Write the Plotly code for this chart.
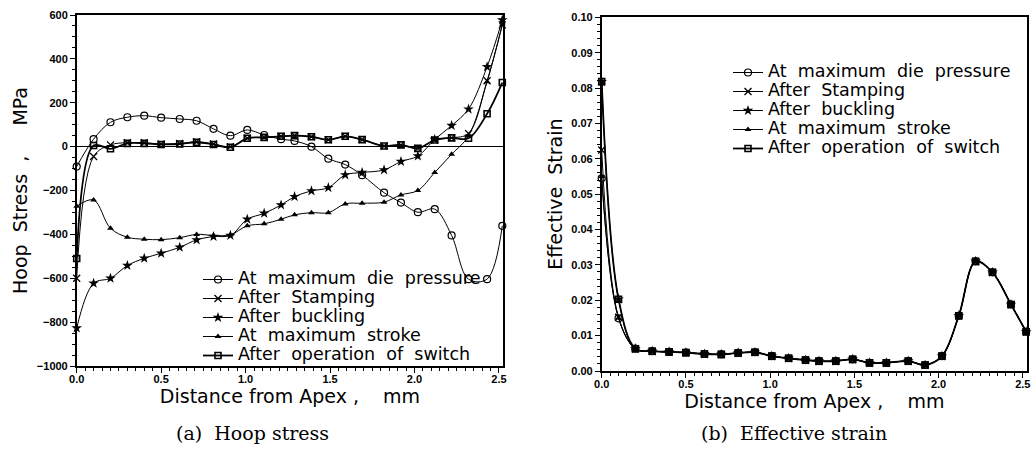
import plotly.graph_objects as go

# ---- data ----
x_nodes = [0.0, 0.1, 0.2, 0.3, 0.4, 0.5, 0.61, 0.71, 0.81, 0.91, 1.01, 1.11, 1.21,
           1.29, 1.39, 1.49, 1.59, 1.69, 1.82, 1.92, 2.02, 2.12, 2.22, 2.32, 2.43, 2.52]

series_names = ["At maximum die pressure", "After Stamping", "After buckling",
                "At maximum stroke", "After operation of switch"]

hoop_die_pressure = [-91, 34, 111, 134, 141, 132, 126, 118, 81, 50, 76, 53, 34,
                     26, 0, -55, -82, -130, -210, -255, -299, -285, -405, -604, -604, -361]
hoop_stamping = [-600, -45, 8, 18, 18, 12, 14, 22, 12, 0, 38, 42, 47,
                 50, 45, 31, 47, 32, 3, 8, -8, 30, 40, 60, 300, 555]
hoop_buckling = [-827, -623, -600, -542, -509, -486, -459, -425, -410, -405, -331, -304, -266,
                 -228, -202, -187, -129, -118, -106, -68, -43, 33, 96, 171, 364, 577]
hoop_max_stroke = [-272, -243, -372, -413, -422, -424, -415, -400, -405, -402, -361, -352, -331,
                   -311, -301, -301, -261, -258, -253, -220, -200, -118, -35, 49, 296, 555]
hoop_switch = [-510, 5, -10, 15, 15, 10, 12, 20, 10, -3, 38, 42, 47,
               50, 45, 31, 47, 32, 3, 8, -8, 30, 40, 38, 150, 292]

strain_tail = [0.0063, 0.0056, 0.0054, 0.0052, 0.0048, 0.0047, 0.0051, 0.0053, 0.0042, 0.0036,
               0.0031, 0.0028, 0.0028, 0.0033, 0.0023, 0.0023, 0.0028, 0.0017, 0.0042, 0.0156,
               0.0310, 0.0279, 0.0188, 0.0111]
strain_die_pressure = [0.0545, 0.0149] + strain_tail
strain_stamping = [0.0625, 0.0152] + strain_tail
strain_buckling = [0.0818, 0.0203] + strain_tail
strain_max_stroke = [0.0550, 0.0150] + strain_tail
strain_switch = [0.0818, 0.0203] + strain_tail

hoop_ticks = [-1000, -800, -600, -400, -200, 0, 200, 400, 600]
strain_ticks = [0.00, 0.01, 0.02, 0.03, 0.04, 0.05, 0.06, 0.07, 0.08, 0.09, 0.10]
dist_ticks = [0.0, 0.5, 1.0, 1.5, 2.0, 2.5]

# ---- styles ----
styles = [
    dict(symbol="circle-open", size=7, line=dict(width=1.2, color="black")),
    dict(symbol="x-thin-open", size=7, line=dict(width=1.3, color="black")),
    dict(symbol="star", size=8, line=dict(width=0)),
    dict(symbol="triangle-up", size=6, line=dict(width=0)),
    dict(symbol="square-open", size=6, line=dict(width=1.6, color="black")),
]
line_widths = [1, 1, 1, 1, 1.8]

nb = "\u00a0"
def legend_label(name):
    return '<span style="font-size:17.5px">' + name.replace(" ", nb * 2) + "</span>"

fig = go.Figure()
hoop = [hoop_die_pressure, hoop_stamping, hoop_buckling, hoop_max_stroke, hoop_switch]
strain = [strain_die_pressure, strain_stamping, strain_buckling, strain_max_stroke, strain_switch]

for name, ys, st, lw in zip(series_names, hoop, styles, line_widths):
    fig.add_trace(go.Scatter(x=x_nodes, y=ys, name=legend_label(name), mode="lines+markers",
                             line=dict(color="black", width=lw, shape="spline", smoothing=1),
                             marker=dict(color="black", **st),
                             xaxis="x", yaxis="y", legend="legend", cliponaxis=False))
for name, ys, st, lw in zip(series_names, strain, styles, line_widths):
    fig.add_trace(go.Scatter(x=x_nodes, y=ys, name=legend_label(name), mode="lines+markers",
                             line=dict(color="black", width=lw, shape="spline", smoothing=1),
                             marker=dict(color="black", **st),
                             xaxis="x2", yaxis="y2", legend="legend2", cliponaxis=False))

W, H = 1035, 449
def px_x(p): return p / W
def px_y(p): return 1 - p / H

tick_font = dict(family="Liberation Sans, Arial, sans-serif", size=11, color="black", weight="bold")
title_font = dict(family="DejaVu Sans, sans-serif", size=19, color="black")
legend_font = dict(family="DejaVu Sans, sans-serif", size=12, color="black")
caption_font = dict(family="DejaVu Serif, serif", size=19, color="black")

axis_common = dict(showline=True, linecolor="black", linewidth=1.5, mirror=True,
                   ticks="outside", ticklen=5, tickwidth=1.2, tickcolor="black",
                   showgrid=False, tickfont=tick_font, automargin=False)

fig.update_layout(
    width=W, height=H, margin=dict(l=0, r=0, t=0, b=0),
    paper_bgcolor="white", plot_bgcolor="white", showlegend=True,
    xaxis=dict(domain=[px_x(76.7), px_x(503.3)], range=[0, 2.526], anchor="y",
               tickvals=dist_ticks, tickformat=".1f", zeroline=False, ticklabelstandoff=-3,
               minor=dict(dtick=0.05, tick0=0, ticks="outside", ticklen=3, tickcolor="black"),
               title=dict(text=f"Distance from Apex{nb},{nb*4}mm", font=title_font, standoff=0),
               **axis_common),
    yaxis=dict(domain=[px_y(366), px_y(15)], range=[-1000, 600], anchor="x",
               tickvals=hoop_ticks, zeroline=True, zerolinecolor="black", zerolinewidth=1,
               minor=dict(dtick=50, tick0=0, ticks="outside", ticklen=3, tickcolor="black"),
               title=dict(text=f"Hoop{nb*2}Stress{nb*2},{nb*5}MPa", font=title_font, standoff=4),
               **axis_common),
    xaxis2=dict(domain=[px_x(601.7), px_x(1027)], range=[0, 2.525], anchor="y2",
                tickvals=dist_ticks, tickformat=".1f", zeroline=False, ticklabelstandoff=-3,
                minor=dict(dtick=0.05, tick0=0, ticks="outside", ticklen=3, tickcolor="black"),
                title=dict(text=f"Distance from Apex{nb},{nb*4}mm", font=title_font, standoff=0),
                **axis_common),
    yaxis2=dict(domain=[px_y(371), px_y(17.3)], range=[0, 0.1], anchor="x2",
                tickvals=strain_ticks, tickformat=".2f", zeroline=False,
                minor=dict(dtick=0.002, tick0=0, ticks="outside", ticklen=3, tickcolor="black"),
                title=dict(text=f"Effective{nb*2}Strain", font=title_font, standoff=4),
                **axis_common),
    legend=dict(x=px_x(198), y=px_y(265), xanchor="left", yanchor="top",
                bgcolor="rgba(0,0,0,0)", font=legend_font, itemwidth=30,
                tracegroupgap=0, itemclick=False),
    legend2=dict(x=px_x(728), y=px_y(58), xanchor="left", yanchor="top",
                 bgcolor="rgba(0,0,0,0)", font=legend_font, itemwidth=30,
                 tracegroupgap=0, itemclick=False),
    annotations=[
        dict(text="(a)  Hoop stress", x=px_x(252), y=px_y(433), xref="paper", yref="paper",
             xanchor="center", yanchor="middle", showarrow=False, font=caption_font),
        dict(text="(b)  Effective strain", x=px_x(794), y=px_y(433), xref="paper", yref="paper",
             xanchor="center", yanchor="middle", showarrow=False, font=caption_font),
    ],
)

fig.write_html("out.html", config={"displayModeBar": False},
               post_script="document.body.style.margin='0px';document.body.style.overflow='hidden';")
